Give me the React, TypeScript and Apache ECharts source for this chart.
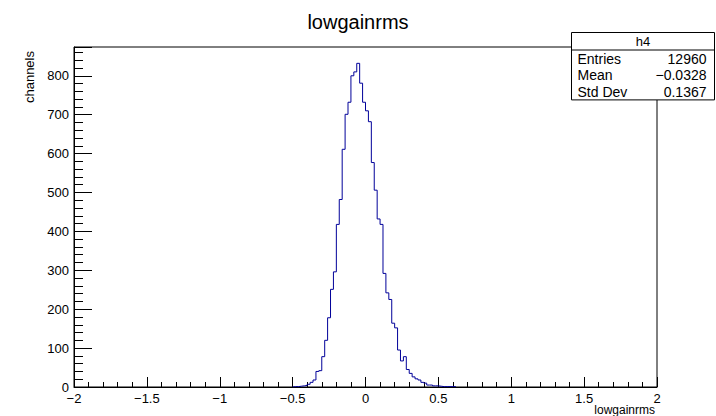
import React, { useEffect, useRef } from "react";
import * as echarts from "echarts";

// Histogram h4: 0.02-wide bins, first non-empty bin starts at -0.50
const binLow = -0.5;
const binWidth = 0.02;
const counts = [
  1, 1, 2, 3, 4, 7, 12, 18, 40, 42, 78, 120, 178, 251, 296, 418, 482, 611, 701, 732,
  800, 810, 832, 781, 732, 710, 682, 577, 506, 432, 418, 292, 242, 225, 164, 152, 95, 67,
  78, 45, 35, 26, 21, 18, 12, 10, 5, 5, 3, 3, 2, 1, 1, 1, 1, 1,
];

const titleText = "lowgainrms";
const xAxisTitle = "lowgainrms";
const yAxisTitle = "channels";
const statsName = "h4";
const statLabels = ["Entries", "Mean", "Std Dev"];
const statValues = ["12960", "\u22120.0328", "0.1367"];

const FONT = "'Liberation Sans', Arial, Helvetica, sans-serif";

export default function App() {
  const ref = useRef<HTMLDivElement>(null);
  useEffect(() => {
    if (!ref.current) return;
    const chart = echarts.init(ref.current, null, { renderer: "svg" });

    const pts: [number, number][] = [];
    const e0 = binLow;
    pts.push([e0, 0]);
    counts.forEach((c, i) => {
      pts.push([+(binLow + i * binWidth).toFixed(4), c]);
    });
    const eN = +(binLow + counts.length * binWidth).toFixed(4);
    pts.push([eN, counts[counts.length - 1]]);
    pts.push([eN, 0]);

    const fmtX = (v: number) => {
      const s = String(+v.toFixed(2));
      return s.replace("-", "\u2212");
    };

    const statsX = 571.5;
    const statsY = 32.5;
    const statsW = 143;
    const headerH = 17.5;
    const rowH = 16.3;

    const graphics: any[] = [
      {
        type: "rect",
        shape: { x: statsX, y: statsY, width: statsW, height: headerH + rowH * 3 + 1 },
        style: { fill: "#fff", stroke: "#000", lineWidth: 1 },
        z: 100,
      },
      {
        type: "line",
        shape: { x1: statsX, y1: statsY + headerH, x2: statsX + statsW, y2: statsY + headerH },
        style: { stroke: "#000", lineWidth: 1 },
        z: 101,
      },
      {
        type: "text",
        x: statsX + statsW / 2,
        y: statsY + headerH / 2 + 0.5,
        style: { text: statsName, textAlign: "center", textVerticalAlign: "middle", fontSize: 13, fontFamily: FONT, fill: "#000" },
        z: 102,
      },
      {
        type: "text",
        x: 29,
        y: 51,
        rotation: Math.PI / 2,
        style: { text: yAxisTitle, textAlign: "right", textVerticalAlign: "middle", fontSize: 13, fontFamily: FONT, fill: "#000" },
      },
      {
        type: "text",
        x: 655,
        y: 410,
        style: { text: xAxisTitle, textAlign: "right", textVerticalAlign: "middle", fontSize: 12, fontFamily: FONT, fill: "#000" },
      },
    ];
    statLabels.forEach((lab, i) => {
      const cy = statsY + headerH + rowH * i + rowH / 2 + 1;
      graphics.push({
        type: "text",
        x: statsX + 6,
        y: cy,
        style: { text: lab, textAlign: "left", textVerticalAlign: "middle", fontSize: 14, fontFamily: FONT, fill: "#000" },
        z: 102,
      });
      graphics.push({
        type: "text",
        x: statsX + statsW - 8,
        y: cy,
        style: { text: statValues[i], textAlign: "right", textVerticalAlign: "middle", fontSize: 14, fontFamily: FONT, fill: "#000" },
        z: 102,
      });
    });

    chart.setOption({
      animation: false,
      backgroundColor: "#fff",
      title: {
        text: titleText,
        left: "center",
        top: 7,
        textStyle: { fontSize: 20, fontWeight: "normal", fontFamily: FONT, color: "#000" },
      },
      grid: {
        left: 74,
        right: 59,
        top: 47,
        bottom: 29,
        show: true,
        borderColor: "#000",
        borderWidth: 1,
        backgroundColor: "transparent",
      },
      xAxis: {
        type: "value",
        min: -2,
        max: 2,
        interval: 0.5,
        axisLine: { show: true, onZero: false, lineStyle: { color: "#000", width: 1 } },
        axisTick: { show: true, inside: true, length: 10, lineStyle: { color: "#000" } },
        minorTick: { show: true, splitNumber: 5, length: 5, lineStyle: { color: "#000" } },
        splitLine: { show: false },
        axisLabel: { color: "#000", fontSize: 13, fontFamily: FONT, margin: 5, formatter: fmtX },
      },
      yAxis: {
        type: "value",
        min: 0,
        max: 874,
        interval: 100,
        axisLine: { show: true, onZero: false, lineStyle: { color: "#000", width: 1 } },
        axisTick: { show: true, inside: true, length: 18, lineStyle: { color: "#000" } },
        minorTick: { show: true, splitNumber: 5, length: 9, lineStyle: { color: "#000" } },
        splitLine: { show: false },
        axisLabel: { color: "#000", fontSize: 13, fontFamily: FONT, margin: 5, showMaxLabel: false },
      },
      series: [
        {
          type: "line",
          data: pts,
          step: "end",
          symbol: "none",
          lineStyle: { color: "#000099", width: 1 },
          z: 3,
        },
      ],
      graphic: graphics,
    });
    return () => chart.dispose();
  }, []);
  return (
    <div
      ref={ref}
      style={{ position: "fixed", left: 0, top: 0, width: 716, height: 416, background: "#fff" }}
    />
  );
}
